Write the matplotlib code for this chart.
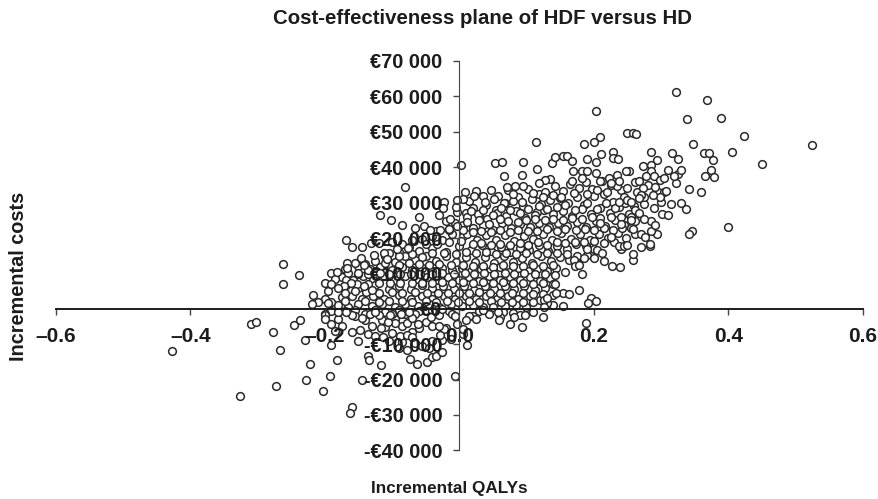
import matplotlib
matplotlib.use("Agg")
import matplotlib.pyplot as plt

# outliers and edge points read one by one
upper_q = [0.525, 0.323, 0.369, 0.339, 0.390, 0.424, 0.406, 0.450, 0.348, 0.204,
           0.249, 0.259, 0.263, 0.210, 0.200, 0.185, 0.114, 0.002, 0.053, 0.063,
           0.095, 0.116, 0.067, 0.094, 0.138, 0.142, 0.155, 0.161, 0.168, 0.190,
           0.204, 0.211, 0.229, 0.228, 0.236, 0.285, 0.316, 0.325, 0.364, 0.371,
           0.377, 0.375, 0.366, 0.379, 0.341, 0.360, 0.337, 0.301, 0.311, 0.346,
           0.342, 0.399, 0.294, 0.274, 0.285, 0.285, 0.278, 0.290, 0.298, 0.305,
           0.311, 0.325, 0.320, 0.330, 0.253, 0.248, 0.203, 0.169, 0.183, 0.190,
           0.183, 0.167, 0.135, 0.128, 0.118, 0.095, 0.083, 0.071, 0.210, 0.223,
           0.235, 0.238, 0.225, 0.261, 0.268, 0.273, 0.270, 0.268, 0.291, 0.308,
           0.298, 0.288, 0.255, 0.238]
upper_c = [46300, 61300, 59000, 53700, 54000, 48900, 44400, 41000, 46600, 55900,
           49800, 49800, 49300, 48500, 47100, 46600, 47000, 40500, 41200, 41400,
           41400, 39600, 37400, 37900, 41200, 42900, 43300, 43200, 41800, 42300,
           41500, 43700, 44200, 42500, 42400, 44200, 44000, 42300, 44000, 44000,
           42100, 39100, 37400, 37200, 33900, 33100, 28300, 26700, 26500, 22000,
           21100, 23200, 41900, 40200, 40700, 38800, 37400, 37400, 36500, 36900,
           39300, 38100, 37400, 39100, 38800, 38800, 38300, 38800, 38800, 38800,
           36900, 36000, 36600, 36500, 35500, 34800, 34600, 34400, 36000, 36900,
           37900, 36000, 35500, 35700, 36000, 34100, 32200, 31300, 34400, 33200,
           31700, 32200, 30300, 30300]

lower_right_q = [0.227, 0.239, 0.182, 0.172, 0.178, 0.200, 0.213, 0.259, 0.258, 0.238,
                 0.245, 0.250, 0.270, 0.283, 0.284, 0.276, 0.294, 0.285, 0.291, 0.275,
                 0.268, 0.258, 0.255, 0.126, 0.126, 0.144, 0.143, 0.163, 0.178, 0.196,
                 0.191, 0.203, 0.188, 0.131]
lower_right_c = [12200, 11700, 9900, 12200, 12400, 14300, 15900, 13800, 15500, 17600,
                 17600, 18100, 17400, 17600, 18400, 20400, 21200, 21900, 23700, 25300,
                 27000, 22600, 25200, 2500, 400, 4400, 7100, 4100, 5200, 3000,
                 1600, 2300, -4000, 3100]

left_q = [-0.080, -0.118, -0.101, -0.060, -0.085, -0.022, -0.024, -0.030, -0.004, -0.013,
          -0.015, -0.004, -0.066, -0.052, -0.044, -0.029, -0.168, -0.160, -0.144, -0.131,
          -0.262, -0.238, -0.262, -0.182, -0.167, -0.167, -0.190, -0.169, -0.161, -0.171,
          -0.180, -0.217, -0.219, -0.195, -0.170, -0.141, -0.129, -0.150, -0.136, -0.146,
          -0.141, -0.126, -0.112, -0.107, -0.092, -0.076]
left_c = [34400, 26600, 25100, 25800, 23700, 30300, 28400, 26600, 30800, 25300,
          22500, 23300, 22800, 23300, 22300, 22300, 19300, 17400, 17500, 18600,
          12700, 9600, 7000, 10500, 12900, 11500, 7100, 8000, 7400, 6300,
          5800, 4000, 1300, 1600, 4400, 6500, 5400, 10100, 11000, 14300,
          12400, 15300, 15900, 14000, 16900, 17100]

below_q = [-0.427, -0.326, -0.309, -0.302, -0.277, -0.267, -0.273, -0.245, -0.236, -0.229,
           -0.222, -0.228, -0.203, -0.192, -0.182, -0.191, -0.184, -0.160, -0.162, -0.145,
           -0.136, -0.134, -0.116, -0.077, -0.073, -0.063, -0.048, -0.041, -0.034, -0.026,
           -0.006, 0.012, 0.006, -0.022, -0.030, -0.028, -0.160, -0.148, -0.136, -0.125,
           -0.114, -0.100, -0.088, -0.078, -0.070, -0.062, -0.078, -0.070, -0.096, -0.106,
           -0.117, -0.190, -0.200, -0.200, -0.180, -0.168, -0.145, -0.133, -0.125, -0.103,
           -0.086, -0.074, -0.042, -0.025, -0.006, 0.015, -0.004, 0.010, 0.035, 0.050,
           0.059, 0.058, 0.076, 0.081, 0.093, 0.098]
below_c = [-11900, -24600, -4240, -3860, -6590, -11600, -21900, -4520, -3110, -8760,
           -15500, -20100, -23200, -19100, -14400, -10200, -6400, -27800, -29500, -20100,
           -13300, -14400, -16000, -11600, -14200, -15600, -15000, -13500, -13200, -12300,
           -19100, -10200, -5700, -5700, -4800, -7300, -6500, -5900, -7100, -7600,
           -8000, -6900, -7600, -7300, -8000, -4400, -4000, -2700, -3900, -3700,
           -5500, -4200, -1800, -2900, -1000, -800, -2600, -1400, -1000, -1700,
           -1400, -800, -2200, 0, -2000, -2000, -4200, -3300, -300, 500,
           -3100, -1000, -4300, -2400, -5200, -1700]

# the dense middle of the cloud, read band by band
cloud_q = [0.008, 0.015, 0.025, 0.035, 0.048, 0.058, 0.072, 0.088, 0.102, 0.118,
           0.128, 0.142, 0.155, 0.165, 0.178, 0.188, 0.198, 0.212, 0.225, 0.240,
           0.020, 0.040, 0.055, 0.068, 0.080, 0.095, 0.108, 0.122, 0.135, 0.150,
           0.162, 0.175, 0.185, 0.200, 0.215, 0.228, 0.245, 0.010, 0.030, 0.115,
           -0.003, 0.012, 0.028, 0.042, 0.056, 0.070, 0.084, 0.098, 0.112, 0.126,
           0.140, 0.154, 0.168, 0.182, 0.196, 0.210, 0.224, 0.238, 0.252, 0.262,
           0.005, 0.020, 0.035, 0.050, 0.063, 0.077, 0.091, 0.105, 0.119, 0.133,
           0.147, 0.161, 0.175, 0.189, 0.203, 0.217, 0.231, 0.245, -0.010, 0.005,
           -0.055, -0.040, -0.025, 0.012, 0.026, 0.040, 0.054, 0.068, 0.082, 0.096,
           0.110, 0.124, 0.138, 0.152, 0.166, 0.180, 0.194, 0.208, 0.222, 0.236,
           -0.090, -0.075, -0.060, -0.040, -0.020, 0.000, 0.018, 0.034, 0.048, 0.062,
           0.076, 0.090, 0.104, 0.118, 0.132, 0.146, 0.160, 0.174, 0.188, 0.200,
           -0.125, -0.110, -0.095, -0.080, -0.065, -0.050, -0.035, -0.020, -0.005, 0.010,
           0.024, 0.038, 0.052, 0.066, 0.080, 0.094, 0.108, 0.122, 0.136, 0.150,
           0.164, -0.150, -0.132, -0.118, -0.100, -0.085, -0.070, -0.055, -0.040, -0.025,
           -0.010, 0.004, 0.018, 0.032, 0.046, 0.060, 0.074, 0.088, 0.102, 0.116,
           0.130, 0.144, 0.158, -0.175, -0.158, -0.143, -0.128, -0.112, -0.096, -0.080,
           -0.064, -0.048, -0.032, -0.016, 0.000, 0.015, 0.030, 0.045, 0.060, 0.075,
           0.090, 0.105, 0.120, 0.135, -0.150, -0.125, -0.105, -0.090, -0.072, -0.056,
           -0.040, -0.024, -0.008, 0.007, 0.022, 0.038, 0.052, 0.068, 0.082, 0.097,
           0.112, 0.127, -0.160, -0.145, -0.128, -0.112, -0.090, -0.072, -0.056, -0.040,
           -0.022, -0.006, 0.010, 0.025, 0.040, 0.056, 0.072, 0.088, 0.105, 0.120,
           -0.180, -0.165, -0.150, -0.130, -0.115, -0.095, -0.080, -0.062, -0.045, -0.030,
           -0.012, 0.004, 0.020, 0.036, 0.052, 0.068, 0.085, 0.100, 0.140, 0.155,
           -0.190, -0.170, -0.155, -0.125, -0.110, -0.090, -0.060, -0.040, -0.015, 0.030,
           0.065, 0.080, 0.110, 0.125, -0.180, -0.155, -0.140, -0.115, -0.095, -0.050]
cloud_c = [33000, 30500, 33200, 31800, 33500, 32000, 33700, 31500, 33900, 32300,
           33000, 34600, 33400, 35200, 34000, 35700, 33800, 36000, 35100, 33600,
           28500, 29300, 28000, 29800, 30400, 28900, 30900, 29600, 30700, 31200,
           30000, 31500, 29400, 31800, 32400, 30100, 31600, 27200, 26400, 27400,
           27300, 25900, 26800, 25400, 27100, 26100, 27500, 25600, 26600, 28000,
           26900, 27600, 26200, 28100, 26900, 28400, 27000, 28700, 26700, 24800,
           23600, 22700, 23800, 22400, 24100, 22900, 24000, 23200, 24300, 23100,
           24100, 23300, 24500, 23000, 24900, 23500, 25100, 23800, 21200, 20700,
           19800, 20600, 19500, 21100, 19400, 20800, 19300, 20900, 19100, 20700,
           19600, 21000, 19400, 21300, 19800, 21200, 19500, 21000, 20000, 21400,
           16000, 17500, 16300, 17300, 16100, 17700, 16500, 17900, 16200, 17400,
           16000, 17200, 16700, 18000, 16400, 17800, 17000, 18200, 17600, 17000,
           13500, 14800, 13200, 14900, 13800, 15000, 13400, 14800, 13100, 14500,
           13200, 14700, 13000, 14800, 13300, 14400, 13000, 15000, 13600, 14600,
           13800, 12000, 11200, 11800, 10900, 11700, 11000, 11500, 10700, 11400,
           10900, 11500, 10600, 11300, 10800, 11700, 10500, 11400, 10700, 11300,
           10800, 11500, 10500, 9000, 8200, 9200, 8000, 9400, 8000, 9200,
           8300, 9100, 8000, 9000, 8100, 8900, 7900, 9300, 8200, 9000,
           8000, 9000, 7800, 8600, 6000, 6600, 5700, 6400, 5600, 6700,
           5800, 6500, 5700, 6300, 5400, 6400, 5600, 6500, 5600, 6300,
           5300, 5900, 3500, 2800, 3600, 2700, 3800, 2900, 3700, 2800,
           3700, 2900, 3500, 2700, 3600, 2800, 3600, 2700, 3500, 2600,
           1000, 600, 1300, 700, 1300, 600, 1400, 800, 1400, 600,
           1400, 700, 1200, 500, 1300, 800, 1100, 600, 1200, 900,
           -700, -600, -400, -300, -800, -200, -500, -700, -500, -600,
           -1000, -1200, -800, -2400, -2900, -2000, -3300, -3200, -3000, -3600]

# second pass over the cloud, the circles lying between the first bands
between_q = [0.005, 0.022, 0.038, 0.052, 0.066, 0.080, 0.094, 0.110, 0.125, 0.140,
             0.152, 0.170, 0.190, 0.205, 0.220, 0.235, 0.250, 0.265, 0.280, 0.295,
             -0.005, 0.018, 0.035, 0.050, 0.062, 0.075, 0.090, 0.103, 0.118, 0.130,
             0.145, 0.158, 0.172, 0.190, 0.205, 0.218, 0.232, 0.247, 0.260, 0.275,
             -0.020, -0.006, 0.012, 0.030, 0.044, 0.060, 0.073, 0.087, 0.100, 0.113,
             0.127, 0.140, 0.155, 0.168, 0.183, 0.197, 0.210, 0.225, 0.240, 0.255,
             -0.035, -0.015, 0.005, 0.020, 0.033, 0.047, 0.060, 0.075, 0.088, 0.102,
             0.116, 0.130, 0.145, 0.158, 0.173, 0.187, 0.200, 0.215, 0.228, 0.242,
             -0.120, -0.100, -0.085, -0.070, -0.050, -0.033, -0.015, 0.003, 0.020, 0.033,
             0.047, 0.060, 0.075, 0.090, 0.103, 0.117, 0.130, 0.145, 0.158, 0.172,
             0.185, 0.200, 0.215, 0.230, 0.248, 0.262, -0.105, -0.090, -0.070, -0.055,
             -0.040, -0.022, -0.005, 0.010, 0.025, 0.040, 0.055, 0.070, 0.085, 0.100,
             0.115, 0.130, 0.145, 0.160, 0.175, 0.190, 0.175, 0.185, -0.190, -0.170,
             -0.155, -0.140, -0.125, -0.110, -0.090, -0.075, -0.060, -0.045, -0.030, -0.012,
             0.005, 0.020, 0.035, 0.050, 0.065, 0.080, 0.095, 0.110, 0.125, 0.140,
             -0.200, -0.185, -0.165, -0.150, -0.135, -0.118, -0.104, -0.088, -0.072, -0.058,
             -0.040, -0.025, -0.008, 0.008, 0.022, 0.037, 0.052, 0.068, 0.082, 0.097,
             0.112, 0.127, 0.142, -0.195, -0.168, -0.152, -0.135, -0.120, -0.103, -0.088,
             -0.070, -0.055, -0.040, -0.025, -0.010, 0.005, 0.020, 0.035, 0.050, 0.065,
             0.080, 0.095, 0.110, 0.125, 0.140, -0.200, -0.175, -0.155, -0.138, -0.120,
             -0.100, -0.085, -0.065, -0.048, -0.032, -0.016, 0.000, 0.015, 0.030, 0.046,
             0.060, 0.078, 0.095, 0.110, 0.125, 0.140, 0.155, -0.210, -0.190, -0.170,
             -0.140, -0.120, -0.105, -0.085, -0.070, -0.050, -0.035, -0.018, -0.002, 0.015,
             0.030, 0.048, 0.062, 0.078, 0.095, 0.110, 0.130, -0.200, -0.160, -0.140,
             -0.120, -0.100, -0.080, -0.065, -0.030, -0.010, 0.020, 0.045, 0.060, 0.090,
             -0.175, -0.130, -0.110, -0.085, -0.060, -0.040, -0.020, 0.005, 0.025, -0.105,
             -0.085, -0.065, -0.055, -0.040, -0.012, -0.150, -0.090, -0.045, -0.070, -0.025,
             0.250, 0.262, 0.275, 0.290, 0.300, 0.305, 0.315, 0.322, 0.330, 0.240,
             0.255, 0.270, 0.285, 0.210, 0.225, 0.240, 0.190, 0.205, 0.170, 0.215]
between_c = [31000, 31800, 30200, 30900, 30000, 32500, 30300, 32600, 31500, 32200,
             31600, 32800, 32500, 33600, 33000, 34800, 34000, 33000, 35000, 33000,
             28800, 27500, 27800, 26500, 28500, 28000, 27000, 28200, 29000, 28300,
             28800, 29200, 27800, 30000, 28200, 30000, 28600, 30000, 29000, 29600,
             24800, 24200, 24500, 25000, 24000, 25500, 24800, 24600, 25000, 25300,
             25000, 25400, 25200, 25600, 25400, 26000, 25700, 26000, 26000, 26000,
             21900, 22400, 22300, 21700, 22000, 21600, 22200, 21700, 22300, 21900,
             22000, 22500, 22000, 22600, 22200, 22500, 22400, 22700, 22400, 22900,
             18500, 19000, 18300, 19300, 18200, 18400, 18800, 19200, 18200, 18600,
             18100, 18400, 18100, 18500, 18000, 18900, 18100, 18800, 18500, 19000,
             19000, 19100, 18700, 18900, 20000, 21000, 15800, 14800, 15600, 14700,
             15900, 15700, 15600, 16000, 15800, 16000, 15600, 15900, 15500, 15700,
             15600, 15900, 15700, 15600, 15000, 15300, 13000, 14300, 10000, 11200,
             13000, 12700, 10000, 12800, 12500, 12900, 12600, 12400, 12700, 12400,
             12400, 12000, 12100, 11900, 12400, 12000, 12100, 12300, 12000, 12300,
             7300, 8400, 10000, 9800, 9900, 10000, 9900, 9700, 9900, 9800,
             9900, 10000, 9800, 10000, 9800, 10100, 9800, 10000, 9700, 10000,
             9800, 9900, 9500, 5000, 6800, 7100, 7000, 7300, 7200, 7400,
             7300, 7400, 7200, 7600, 7300, 7500, 7200, 7600, 7400, 7600,
             7200, 7400, 7000, 7400, 6900, 2800, 3300, 5000, 4700, 4500,
             4700, 4600, 4700, 4400, 4600, 4500, 4600, 4400, 4700, 4500,
             4500, 4600, 4400, 4300, 4200, 3800, 4600, 1800, 2000, 2200,
             2200, 2000, 2100, 2200, 1900, 2200, 2000, 2200, 1900, 2100,
             2000, 2200, 2000, 2000, 1900, 1800, 1700, -1500, -1700, -1400,
             -1700, -1500, -1600, -1400, -1700, -1500, -2000, -1500, -2200, -1700,
             -5000, -4800, -5200, -5000, -5300, -5000, -5400, -7000, -3000, -9000,
             -9500, -9800, -10600, -9000, -8600, -9000, -11000, -11000, -6500, -8800,
             30800, 27800, 31500, 28500, 30200, 33000, 29500, 35600, 30000, 24000,
             22800, 21000, 24800, 24200, 20300, 17000, 16800, 16500, 13800, 13500]

x_ticks = [-0.6, -0.4, -0.2, 0.0, 0.2, 0.4, 0.6]
x_tick_labels = ["–0.6", "–0.4", "–0.2", "0.0", "0.2", "0.4", "0.6"]
y_ticks = [-40000, -30000, -20000, -10000, 0, 10000, 20000, 30000, 40000, 50000, 60000, 70000]
y_tick_labels = ["-€40 000", "-€30 000", "-€20 000", "-€10 000", "€0", "€10 000", "€20 000",
                 "€30 000", "€40 000", "€50 000", "€60 000", "€70 000"]

plt.rcParams["font.family"] = ["Liberation Sans", "DejaVu Sans"]
plt.rcParams["font.weight"] = "bold"
INK = "#1c1c1c"

fig = plt.figure(figsize=(8.79, 4.99), dpi=100)
ax = fig.add_axes([55.7 / 879, (499 - 450.4) / 499, 807 / 879, 389.4 / 499])

for qalys, costs in [(cloud_q, cloud_c), (between_q, between_c), (left_q, left_c), (upper_q, upper_c),
                     (lower_right_q, lower_right_c), (below_q, below_c)]:
    ax.scatter(qalys, costs, s=31, facecolor="white", edgecolor="#2a2a2a", linewidth=1.1,
               clip_on=False, zorder=1)

ax.set_xlim(-0.6, 0.6)
ax.set_ylim(-40000, 70000)
ax.spines["top"].set_visible(False)
ax.spines["right"].set_visible(False)
ax.spines["left"].set_position(("data", 0))
ax.spines["bottom"].set_position(("data", 0))
ax.spines["left"].set_color("#444444")
ax.spines["bottom"].set_color(INK)
ax.spines["bottom"].set_linewidth(1.4)

ax.set_xticks(x_ticks, x_tick_labels)
ax.set_yticks(y_ticks, y_tick_labels)
ax.tick_params(axis="x", length=4, width=1, color="#444444", pad=9, labelsize=15, labelcolor=INK)
ax.tick_params(axis="y", length=4, width=1, color="#444444", pad=8, labelsize=14.3, labelcolor=INK)

fig.text(483 / 879, 1 - 18 / 499, "Cost-effectiveness plane of HDF versus HD", ha="center", va="center",
         fontsize=14.7, color=INK)
fig.text(449 / 879, 1 - 488 / 499, "Incremental QALYs", ha="center", va="center", fontsize=12.3, color=INK)
fig.text(19 / 879, 1 - 276 / 499, "Incremental costs", ha="center", va="center", rotation=90,
         fontsize=14.3, color=INK)

fig.savefig("out.png", dpi=100)
